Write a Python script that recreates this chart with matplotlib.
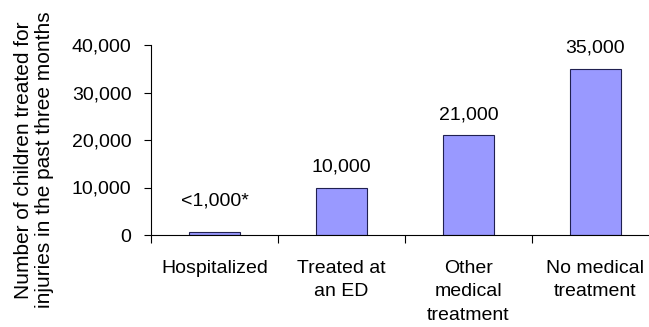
import matplotlib.pyplot as plt
from matplotlib.ticker import FuncFormatter

categories = ['Hospitalized', 'Treated at\nan ED', 'Other\nmedical\ntreatment', 'No medical\ntreatment']
children = [700, 10000, 21000, 35000]
value_labels = ['<1,000*', '10,000', '21,000', '35,000']

plt.rcParams['font.family'] = ['Liberation Sans', 'DejaVu Sans']
FS = 14

fig = plt.figure(figsize=(6.49, 3.27), dpi=100)
ax = fig.add_axes([151 / 649, 92 / 327, 508 / 649, 190 / 327])

x = list(range(len(categories)))
ax.bar(x, children, width=0.4, color='#9999ff', edgecolor='#202050', linewidth=0.8)

# value labels sit a fixed gap above each bar (tiny bar gets a bit more room)
for xi, v, lab in zip(x, children, value_labels):
    top = max(v, 2800)
    ax.text(xi, top + 2500, lab, ha='center', va='bottom', fontsize=FS)

ax.set_xlim(-0.5, 3.5)
ax.set_ylim(0, 40000)
ax.set_yticks([0, 10000, 20000, 30000, 40000])
ax.yaxis.set_major_formatter(FuncFormatter(lambda v, p: f'{int(v):,}'))
ax.set_xticks([-0.5, 0.5, 1.5, 2.5])
ax.set_xticklabels([])
ax.set_xticks(x, minor=True)
ax.set_xticklabels(categories, minor=True, fontsize=FS, linespacing=1.5)
ax.tick_params(axis='x', which='minor', length=0, pad=18)
ax.tick_params(axis='x', which='major', direction='out', length=6, width=0.8)
ax.tick_params(axis='y', direction='out', length=5, width=0.8, labelsize=FS, pad=9)

for side in ['top', 'right']:
    ax.spines[side].set_visible(False)
ax.spines['left'].set_linewidth(0.8)
ax.spines['bottom'].set_linewidth(0.8)

fig.text(34 / 649, 1 - 160 / 327,
         'Number of children treated for\ninjuries in the past three months',
         rotation=90, ha='center', va='center', fontsize=FS + 1, linespacing=1.1)

fig.savefig('out.png', dpi=100)
